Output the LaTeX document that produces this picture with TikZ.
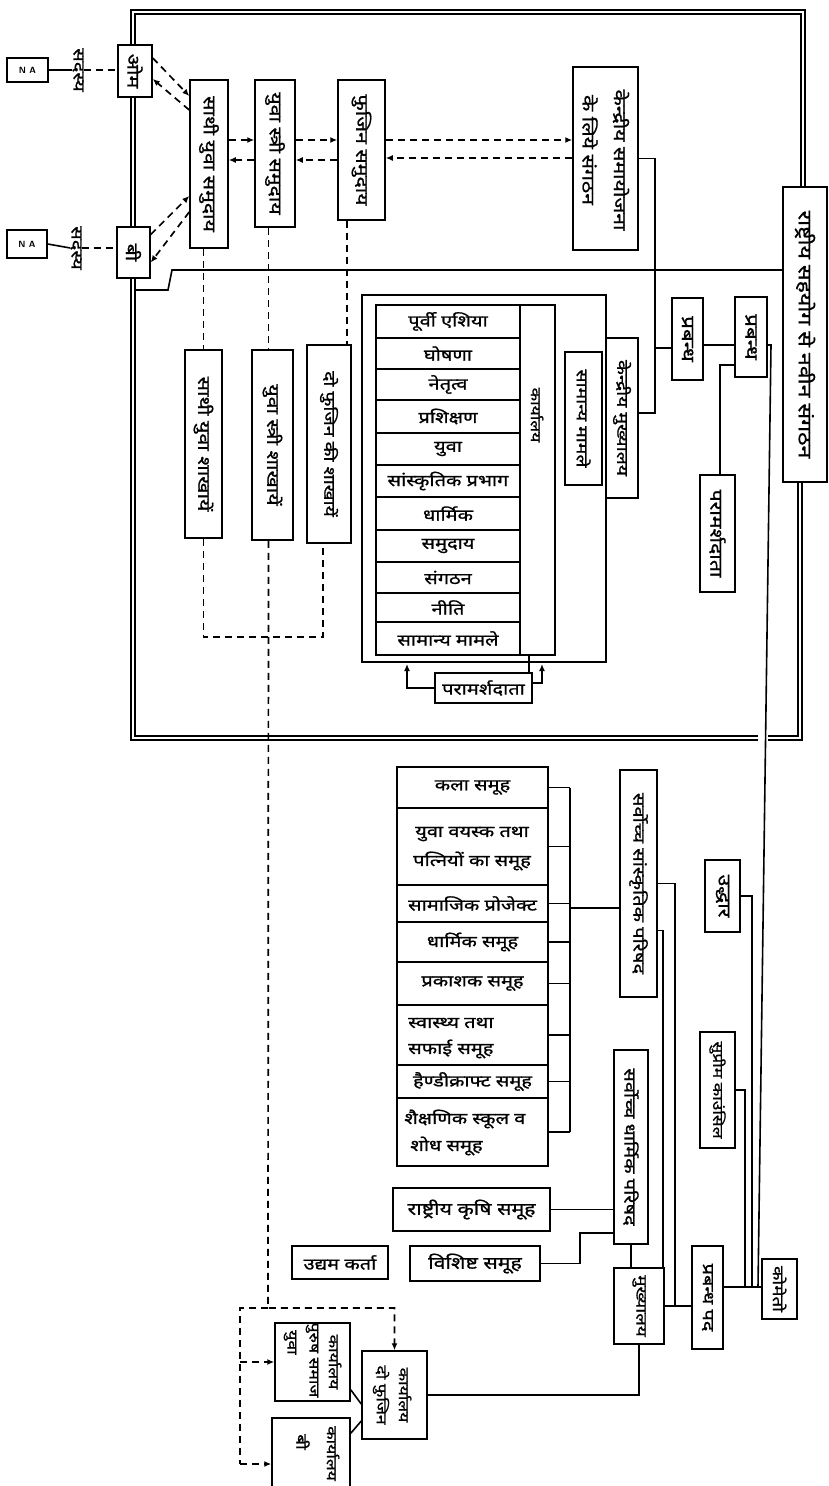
\documentclass[tikz,border=0pt]{standalone}
\usepackage{fontspec}
\setmainfont[Script=Devanagari,FakeStretch=1.25,FakeBold=1]{Noto Sans}
\usetikzlibrary{arrows.meta,fit}
\newcommand\bx[7]{\node[box,fit={(#2,#3) (#4,#5)}] (#1) {};\node[#6] (#1t) at (#1.center) {#7};}
\newcommand\bxe[5]{\node[box,fit={(#2,#3) (#4,#5)}] (#1) {};}
\tikzset{
  box/.style={draw,line width=1.5pt,fill=white,inner sep=0pt},
  t/.style={font=\fontsize{#1}{#1}\selectfont,inner sep=0pt},
  v/.style={t=#1,rotate=-90},
  lat/.style={font=\sffamily\bfseries\fontsize{9}{9}\selectfont,inner sep=0pt},
  ln/.style={line width=1.6pt},
  dl/.style={line width=1.7pt,dash pattern=on 7pt off 5pt},
  arr/.style={-{Latex[length=7pt,width=6pt]}},
  frame/.style={double,double distance=2.6pt,line width=1.3pt}
}
\begin{document}
\begin{tikzpicture}[x=1pt,y=-1pt]
\useasboundingbox (0,0) rectangle (829,1486);
\fill[white] (0,0) rectangle (829,1486);
% outer double frame
\draw[frame] (803,187) -- (803,12) -- (133,12) -- (133,738) -- (758,738);
\draw[frame] (768,738) -- (800,738) -- (800,482);
% helper y coordinates
\coordinate (y140) at (0,140);
\coordinate (y158) at (0,158);
\coordinate (y160) at (0,160);
\coordinate (y345) at (0,345);
\coordinate (y348) at (0,348);
\coordinate (y365) at (0,365);
\coordinate (y637) at (0,637);
\coordinate (y1233) at (0,1233);
\coordinate (y1287) at (0,1287);
% left members
\bx{na1}{7}{58}{48}{82}{lat}{N A}
\bx{na2}{7}{230}{47}{258}{lat}{N A}
\node[v=16] (s1) at (78,70) {सदस्य};
\node[v=16] (s2) at (76,248) {सदस्य};
\bx{bo}{118}{45}{152}{97}{v=17}{ओम}
\bx{bb}{117}{227}{150}{278}{v=17}{बी}
\draw[ln] (na1.east) -- (s1.south);
\draw[ln] (na2.east) -- (s2.south);
\draw[dl] (s1.north) -- (s1.north -| bo.west);
\draw[dl] (s2.north) -- (s2.north -| bb.west);
% long horizontal line
\bx{rs}{783}{187}{827}{482}{v=18.5}{राष्ट्रीय सहयोग से नवीन संगठन}
\coordinate (h0) at (136,290);
\coordinate (h1) at (172,270);
\draw[ln] (h0) -- (168,290) -- (h1) -- (h1 -| rs.west);
% top row communities
\bx{a}{190}{80}{228}{248}{v=17}{साथी युवा समुदाय}
\bx{b}{255}{80}{295}{227}{v=17}{युवा स्त्री समुदाय}
\bx{c}{338}{80}{385}{220}{v=17}{फुजिन समुदाय}
\bxe{d}{573}{67}{638}{250}
\node[v=17] (d1) at (621,160) {केन्द्रीय समायोजना};
\node[v=17] (d2) at (590,150) {के लिये संगठन};
\draw[dl,arr] ([yshift=13pt]bo.east) -- ([yshift=68pt]a.west);
\draw[dl,arr] ([yshift=54pt]a.west) -- ([yshift=-8pt]bo.east);
\draw[dl,arr] ([yshift=18pt]bb.east) -- ([yshift=-32pt]a.west);
\draw[dl,arr] ([yshift=-48pt]a.west) -- ([yshift=-10pt]bb.east);
\draw[dl,arr] (a.east |- y140) -- (b.west |- y140);
\draw[dl,arr] (b.west |- y160) -- (a.east |- y160);
\draw[dl,arr] (b.east |- y140) -- (c.west |- y140);
\draw[dl,arr] (c.west |- y160) -- (b.east |- y160);
\draw[dl,arr] (c.east |- y140) -- (d.west |- y140);
\draw[dl,arr] (d.west |- y158) -- (c.east |- y158);
% branches
\bx{as}{185}{350}{222}{538}{v=17}{साथी युवा शाखायें}
\bx{bs}{252}{350}{293}{540}{v=17}{युवा स्त्री शाखायें}
\bx{cs}{307}{345}{351}{543}{v=15.5}{दो फुजिन की शाखायें}
\draw[dl] (as.north |- a.south) -- (as.north);
\draw[dl] ([xshift=-4pt]bs.north |- b.south) -- ([xshift=-4pt]bs.north);
\draw[dl] ([xshift=18pt]cs.north |- c.south) -- ([xshift=18pt]cs.north);
\draw[dl] (as.south) -- (as.south |- y637) -- ([xshift=-6pt]cs.south |- y637) -- ([xshift=-6pt]cs.south);
% headquarters block
\draw[ln] (362,295) rectangle (606,662);
\draw[ln] (376,305) rectangle (555,655);
\bx{r1}{376}{305}{520}{338}{t=16}{पूर्वी एशिया}
\bx{r2}{376}{338}{520}{369}{t=16}{घोषणा}
\bx{r3}{376}{369}{520}{400}{t=16}{नेतृत्व}
\bx{r4}{376}{400}{520}{433}{t=16}{प्रशिक्षण}
\bx{r5}{376}{433}{520}{465}{t=16}{युवा}
\bx{r6}{376}{465}{520}{497}{t=16}{सांस्कृतिक प्रभाग}
\bx{r7}{376}{497}{520}{530}{t=16}{धार्मिक}
\bx{r8}{376}{530}{520}{562}{t=16}{समुदाय}
\bx{r9}{376}{562}{520}{593}{t=16}{संगठन}
\bx{r10}{376}{593}{520}{622}{t=16}{नीति}
\bx{r11}{376}{622}{520}{655}{t=16}{सामान्य मामले}
\node[v=14] (ka) at (537,415) {कार्यालय};
\bx{sm}{565}{352}{602}{485}{v=15.5}{सामान्य मामले}
\bx{km}{606}{338}{638}{498}{v=15.5}{केन्द्रीय मुख्यालय}
\bx{ph}{435}{673}{532}{703}{t=16}{परामर्शदाता}
\coordinate (jp1) at (407,664);
\coordinate (jp2) at (542,664);
\draw[ln,arr] (ph.west) -| (jp1);
\draw[ln,arr] ([yshift=5pt]ph.east) -| (jp2);
\draw[ln] ([xshift=-4pt]ph.north east) -- ++(0,-18);
% management
\bx{p1}{672}{298}{703}{380}{v=18}{प्रबन्ध}
\bx{p2}{735}{297}{767}{377}{v=18}{प्रबन्ध}
\bx{pd}{700}{475}{735}{592}{v=17}{परामर्शदाता}
\coordinate (j655) at (655,413);
\draw[ln] (d.east) -| (j655) -- (j655 -| km.east);
\draw[ln] (j655 |- y348) -- (p1.west |- y348);
\draw[ln] (p1.east |- y345) -- (p2.west |- y345);
\draw[ln] (p2.west |- y365) -- (720,365) -- (pd.north -| 720,0);
% lower left offices
\bxe{yk}{275}{1323}{350}{1401}
\node[v=14] (yk1) at (335,1362) {कार्यालय};
\node[v=14] (yk2) at (312,1360) {पुरुष समाज};
\node[v=14,anchor=west] (yk3) at (290,1330) {युवा};
\bxe{bk}{272}{1418}{350}{1500}
\node[v=14,anchor=west] (bk1) at (333,1426) {कार्यालय};
\node[v=15] (bk2) at (303,1442) {बी};
\bxe{df}{362}{1351}{427}{1439}
\node[v=14] (df1) at (405,1395) {कार्यालय};
\node[v=14] (df2) at (381,1395) {दो फुजिन};
\coordinate (jv) at (268,1308);
\coordinate (jd) at (240,1308);
\coordinate (je) at (240,1464);
\draw[dl,arr] ([xshift=-4pt]bs.south) -- (jv) -| (df.north);
\draw[dl] (jv) -- (jd) -- (je);
\draw[dl,arr] (jd |- yk.west) -- (yk.west);
\draw[dl,arr] (je) -- (je -| bk.west);
\draw[ln] ([yshift=12pt]yk.south east) -- ([yshift=-9pt]df.west);
\draw[ln] ([yshift=-16pt]bk.north east) -- ([yshift=-26pt]df.west);
% groups
\bx{g1}{397}{767}{548}{808}{t=16}{कला समूह}
\bxe{g2}{397}{808}{548}{885}
\node[t=16] (g2a) at (472,834) {युवा वयस्क तथा};
\node[t=16] (g2b) at (472,861) {पत्नियों का समूह};
\bx{g3}{397}{885}{548}{922}{t=16}{सामाजिक प्रोजेक्ट}
\bx{g4}{397}{922}{548}{962}{t=16}{धार्मिक समूह}
\bx{g5}{397}{962}{548}{1005}{t=16}{प्रकाशक समूह}
\bxe{g6}{397}{1005}{548}{1065}
\node[t=16,anchor=west] (g6a) at (408,1023) {स्वास्थ्य तथा};
\node[t=16,anchor=west] (g6b) at (408,1049) {सफाई समूह};
\bx{g7}{397}{1065}{548}{1098}{t=16}{हैण्डीक्राफ्ट समूह}
\bxe{g8}{397}{1098}{548}{1166}
\node[t=16,anchor=west] (g8a) at (404,1119) {शैक्षणिक स्कूल व};
\node[t=16,anchor=west] (g8b) at (410,1146) {शोध समूह};
\coordinate (bt) at (570,787.5);
\coordinate (bb2) at (570,1132);
\draw[ln] (bt) -- (bb2);
\foreach \g in {g1,g2,g3,g4,g5,g6,g7,g8} {\draw[ln] (\g.east) -- (\g.east -| bt);}
\bx{sc}{620}{770}{657}{997}{v=16}{सर्वोच्च सांस्कृतिक परिषद}
\coordinate (jb) at (570,908);
\draw[ln] (jb) -- (jb -| sc.west);
\bx{sr}{614}{1050}{648}{1244}{v=16}{सर्वोच्च धार्मिक परिषद}
\bx{rk}{393}{1188}{550}{1231}{t=17}{राष्ट्रीय कृषि  समूह}
\bx{vs1}{410}{1246}{540}{1281}{t=17}{विशिष्ट समूह}
\bx{uk}{292}{1246}{388}{1279}{t=16}{उद्यम कर्ता}
\draw[ln] (rk.east) -- (rk.east -| sr.west);
\draw[ln] (vs1.east) -- (580,1263.5) -- (580,1233) -- (sr.west |- y1233);
\bx{mh}{614}{1268}{664}{1344}{v=15}{मुख्यालय}
\bx{pp}{692}{1246}{723}{1349}{v=16}{प्रबन्ध पद}
\bx{ud}{705}{860}{740}{932}{v=17}{उद्धार}
\bx{sp}{700}{1032}{735}{1148}{v=14}{सुप्रीम काउंसिल}
\bx{ko}{762}{1259}{797}{1319}{v=15}{कोमेतो}
\draw[ln] (sr.south) -- (sr.south |- mh.north);
\draw[ln] (df.east) -| (mh.south);
\draw[ln] (mh.east) -- (mh.east -| pp.west);
\coordinate (j675) at (675,1306);
\draw[ln] (sc.east) -| (j675);
\draw[ln] ([yshift=-47pt]sc.east) -| ([xshift=-2pt]mh.north east);
\draw[ln] (pp.east |- y1287) -- (ko.west |- y1287);
\coordinate (j745) at (745,1287);
\coordinate (j752) at (752,1287);
\coordinate (j760) at (758,1287);
\draw[ln] (ud.east) -| (j752);
\draw[ln] (sp.east) -| (j745);
\draw[ln] (p2.east |- y345) -- (771,345) -- (j760);
\end{tikzpicture}
\end{document}
